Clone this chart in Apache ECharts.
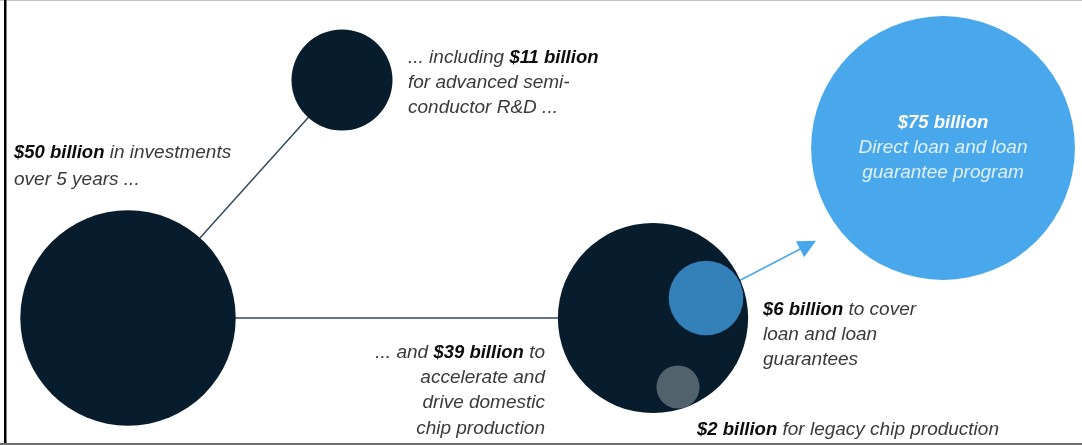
<!DOCTYPE html>
<html>
<head>
<meta charset="utf-8">
<script src="https://cdn.jsdelivr.net/npm/echarts@6/dist/echarts.min.js"></script>
<style>
html,body{margin:0;padding:0;background:#fff;}
#chart{width:1082px;height:445px;}
</style>
</head>
<body>
<div id="chart"></div>
<script>
// ---- data ----
const names = ['total', 'rd', 'production', 'loans', 'legacy', 'program'];
const amounts = [50, 11, 39, 6, 2, 75]; // $ billion
const boldLabels = ['$50 billion', '$11 billion', '$39 billion', '$6 billion', '$2 billion', '$75 billion'];
const links = [['total', 'rd'], ['total', 'production']];

// ---- layout (pixel canvas positions, not data) ----
const layout = {
  total: [128, 318], rd: [342, 80], production: [653, 318],
  loans: [706, 298], legacy: [678, 387], program: [943, 148]
};
const arrowEnd = [808, 245];
const colors = {
  total: '#071c2c', rd: '#071c2c', production: '#071c2c',
  loans: '#3480b9', legacy: '#52626d', program: '#49a8eb'
};
const AREA_PER_BILLION = 232; // px^2 per $1bn

const FONT = '"Liberation Sans", Arial, sans-serif';
const FB = 18.5, FR = 19;
const rich = {
  b: { fontFamily: FONT, fontSize: FB, fontWeight: 'bold', fontStyle: 'italic', fill: '#0c0c0c' },
  r: { fontFamily: FONT, fontSize: FR, fontStyle: 'italic', fill: '#3a3a3a' },
  wb: { fontFamily: FONT, fontSize: FB, fontWeight: 'bold', fontStyle: 'italic', fill: '#ffffff' },
  wr: { fontFamily: FONT, fontSize: FR, fontStyle: 'italic', fill: '#dff0fc' }
};

// annotation lines: [x, y, align, text]
const notes = [
  [14, 153, 'left', '{b|' + boldLabels[0] + '}{r| in investments}'],
  [14, 180, 'left', '{r|over 5 years ...}'],
  [408, 58, 'left', '{r|... including }{b|' + boldLabels[1] + '}'],
  [408, 83, 'left', '{r|for advanced semi-}'],
  [408, 108, 'left', '{r|conductor R&D ...}'],
  [943, 123, 'center', '{wb|' + boldLabels[5] + '}'],
  [943, 148, 'center', '{wr|Direct loan and loan}'],
  [943, 173, 'center', '{wr|guarantee program}'],
  [763, 310, 'left', '{b|' + boldLabels[3] + '}{r| to cover}'],
  [763, 335, 'left', '{r|loan and loan}'],
  [763, 360, 'left', '{r|guarantees}'],
  [697, 430, 'left', '{b|' + boldLabels[4] + '}{r| for legacy chip production}'],
  [545, 353, 'right', '{r|... and }{b|' + boldLabels[2] + '}{r| to}'],
  [545, 378, 'right', '{r|accelerate and}'],
  [545, 403, 'right', '{r|drive domestic}'],
  [545, 429, 'right', '{r|chip production}']
];

const scatterData = names.map((n, i) => ({
  value: [layout[n][0], layout[n][1], amounts[i]],
  itemStyle: { color: colors[n], opacity: 1 }
}));

const lineData = links.map(([a, b]) => ({ coords: [layout[a], layout[b]] }));

const chart = echarts.init(document.getElementById('chart'));
chart.setOption({
  backgroundColor: '#ffffff',
  animation: false,
  grid: { left: 0, right: 0, top: 0, bottom: 0 },
  xAxis: { type: 'value', min: 0, max: 1082, show: false },
  yAxis: { type: 'value', min: 0, max: 445, inverse: true, show: false },
  series: [
    {
      type: 'lines', coordinateSystem: 'cartesian2d', z: 1,
      lineStyle: { color: '#34495a', width: 1.5, opacity: 1 },
      data: lineData
    },
    {
      type: 'lines', coordinateSystem: 'cartesian2d', z: 1,
      symbol: ['none', 'triangle'], symbolSize: [18, 18],
      lineStyle: { color: '#49a8eb', width: 1.5, opacity: 1 },
      data: [{ coords: [layout.loans, arrowEnd] }]
    },
    {
      type: 'scatter', z: 3,
      symbol: 'circle',
      symbolSize: d => 2 * Math.sqrt(d[2] * AREA_PER_BILLION),
      itemStyle: { opacity: 1 },
      emphasis: { disabled: true },
      data: scatterData
    }
  ],
  graphic: [
    { type: 'rect', shape: { x: 0, y: 0, width: 1082, height: 1 }, style: { fill: '#c4c4c4' }, z: 10 },
    { type: 'rect', shape: { x: 4, y: 0, width: 2.5, height: 444 }, style: { fill: '#000000' }, z: 10 },
    { type: 'rect', shape: { x: 0, y: 443, width: 1082, height: 2 }, style: { fill: '#6e6e6e' }, z: 10 }
  ].concat(notes.map(([x, y, align, text]) => ({
    type: 'text', z: 20,
    style: { x: x, y: y, text: text, textAlign: align, textVerticalAlign: 'middle', rich: rich, font: FR + 'px ' + FONT }
  })))
});
</script>
</body>
</html>
